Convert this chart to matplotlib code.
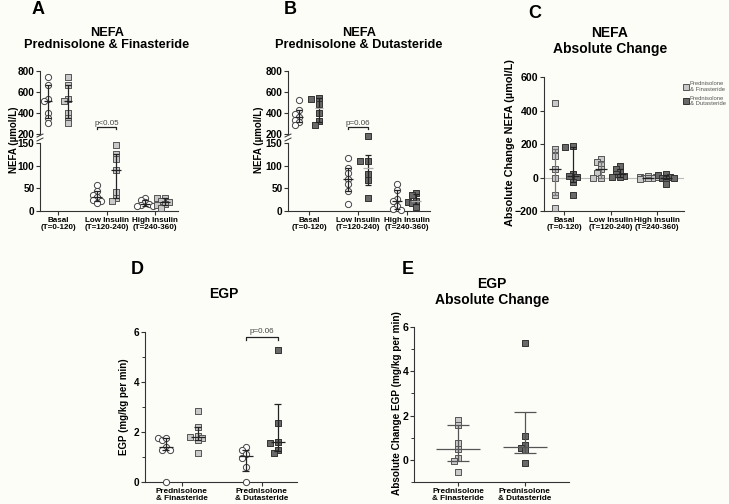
import numpy as np
import matplotlib.pyplot as plt
from matplotlib.lines import Line2D

plt.rcParams['font.family'] = ['Liberation Sans', 'DejaVu Sans']

W, H = 729, 504
BG = '#fdfdf8'

# ---- data ----
nefa_cats = ["Basal\n(T=0-120)", "Low Insulin\n(T=120-240)", "High Insulin\n(T=240-360)"]
egp_cats = ["Prednisolone\n& Finasteride", "Prednisolone\n& Dutasteride"]
legend_labels = ["Prednisolone\n& Finasteride", "Prednisolone\n& Dutasteride"]

# panel A: prednisolone alone (circles) vs prednisolone + finasteride (squares)
fin_pred = [[740, 670, 530, 510, 400, 350, 305], [58, 44, 35, 30, 25, 22, 18], [29, 24, 19, 16, 13, 12, 10]]
fin_combo = [[740, 670, 530, 510, 400, 350, 305], [145, 125, 115, 90, 42, 28, 23], [29, 28, 22, 20, 16, 13, 7]]
# panel B: prednisolone alone vs prednisolone + dutasteride
dut_pred = [[525, 425, 395, 365, 335, 310, 290], [117, 95, 84, 71, 60, 45, 16], [60, 46, 27, 22, 10, 5, 2]]
dut_combo = [[540, 538, 490, 400, 320, 285], [165, 111, 110, 81, 68, 28], [40, 36, 22, 20, 17, 8]]
# panel C: absolute change in NEFA
chg_fin = [[445, 170, 130, 50, 0, -105, -180], [110, 90, 80, 50, 25, 0, -2], [8, 5, 3, 0, -2, -4, -7]]
chg_dut = [[186, 182, 18, 10, 2, -25, -104], [66, 50, 30, 20, 10, 5, 2], [18, 12, 5, 0, -3, -8, -40]]
# panel D: EGP
egp_pred = [[1.76, 1.70, 1.78, 1.40, 1.30, 1.28, 0.0], [1.39, 1.27, 1.11, 0.95, 0.59, 0.0]]
egp_combo = [[2.85, 2.20, 1.85, 1.82, 1.78, 1.68, 1.15], [5.27, 2.38, 1.60, 1.58, 1.28, 1.15]]
# panel E: absolute change in EGP
egp_chg = [[1.81, 1.58, 0.78, 0.48, 0.08, -0.03, -0.54], [5.27, 1.10, 0.65, 0.54, 0.45, -0.12]]

CIRC = dict(marker='o', facecolor='white', edgecolor='#444444')
LIGHT = dict(marker='s', facecolor='#c9c9c9', edgecolor='#555555')
DARK = dict(marker='s', facecolor='#6a6a6a', edgecolor='#333333')


def box(x0, y0, x1, y1):
    return [x0 / W, 1 - y1 / H, (x1 - x0) / W, (y1 - y0) / H]


def swarm(vals, ypx, xpx, d=4.2, step=4.0):
    # spread overlapping points sideways, like a column scatter
    vals = np.asarray(vals, float)
    placed = []
    offs = np.zeros(len(vals))
    cands = [0.0, -step, step, -2 * step, 2 * step]
    for i in np.argsort(vals)[::-1]:
        y = vals[i] * ypx
        best, best_d = 0.0, -1
        for c in cands:
            md = min([np.hypot(c - px, y - py) for px, py in placed] or [99])
            if md >= d:
                best = c
                break
            if md > best_d:
                best, best_d = c, md
        placed.append((best, y))
        offs[i] = best / xpx
    return offs


def group(ax, x0, vals, style, ypx, xpx, medw, capw, lc='#222222', medc=None):
    offs = swarm(vals, ypx, xpx)
    ax.scatter(x0 + offs, vals, s=20, linewidths=0.7, zorder=3, clip_on=False, **style)
    q1, med, q3 = np.percentile(vals, [25, 50, 75], method='weibull')
    kw = dict(color=lc, lw=0.9, zorder=4, clip_on=False, solid_capstyle='butt')
    ax.plot([x0, x0], [q1, q3], **kw)
    for q in (q1, q3):
        ax.plot([x0 - capw / xpx, x0 + capw / xpx], [q, q], **kw)
    kw['color'] = medc or lc
    ax.plot([x0 - medw / xpx, x0 + medw / xpx], [med, med], **kw)


def style_ax(ax, bottom=True, size=7.2):
    ax.set_facecolor('none')
    for s in ('top', 'right'):
        ax.spines[s].set_visible(False)
    for s in ('left', 'bottom'):
        ax.spines[s].set_linewidth(0.8)
        ax.spines[s].set_color('#333333')
    ax.tick_params(length=3, width=0.8, color='#333333', labelsize=size, pad=1)
    for t in ax.get_yticklabels():
        t.set_fontweight('bold')
    if not bottom:
        ax.spines['bottom'].set_visible(False)
        ax.set_xticks([])


def cat_labels(ax, cats, size=5.8):
    ax.set_xticks(range(len(cats)))
    ax.set_xticklabels(cats, fontsize=size, fontweight='bold', linespacing=1.05)
    ax.tick_params(axis='x', pad=1)


def bracket(ax, x0, x1, y, h, text):
    ax.plot([x0, x0, x1, x1], [y - h, y, y, y - h], color='#222222', lw=0.9, clip_on=False)
    ax.text((x0 + x1) / 2, y + h * 0.6, text, ha='center', va='bottom', fontsize=5.8, color='#444444')


fig = plt.figure(figsize=(W / 100, H / 100), dpi=100, facecolor=BG)


def nefa_panel(xl, xr, xlim, xpx, pred, combo, combo_style, med_combo, ptext, lab_x):
    top = fig.add_axes(box(xl, 71, xr, 134))
    bot = fig.add_axes(box(xl, 143, xr, 211))
    top.set_ylim(200, 800)
    bot.set_ylim(0, 150)
    top.set_yticks([200, 400, 600, 800])
    bot.set_yticks([0, 50, 100, 150])
    for a in (top, bot):
        a.set_xlim(*xlim)
    for i in range(3):
        for vals, sty, dx, mc in ((pred[i], CIRC, -0.2, None), (combo[i], combo_style, 0.2, med_combo)):
            if np.median(vals) >= 200:
                group(top, i + dx, vals, sty, 63 / 600, xpx, 4, 3, medc=mc)
            else:
                group(bot, i + dx, vals, sty, 68 / 150, xpx, 5, 3, medc=mc)
    style_ax(top, bottom=False)
    style_ax(bot)
    cat_labels(bot, nefa_cats)
    bracket(top, 0.8, 1.2, 262, 14, ptext)
    # axis break marks
    for yy in (135.5, 139.5):
        fig.add_artist(Line2D([(xl - 3) / W, (xl + 3) / W], [1 - (yy + 1.5) / H, 1 - (yy - 1.5) / H],
                              color='#333333', lw=0.7))
    fig.text(lab_x / W, 1 - 140 / H, "NEFA (µmol/L)", rotation=90, ha='center', va='center',
             fontsize=7, fontweight='bold')


nefa_panel(40, 178, (-0.37, 2.47), 48.5, fin_pred, fin_combo, LIGHT, None, "p<0.05", 14)
nefa_panel(288, 430, (-0.43, 2.48), 48.8, dut_pred, dut_combo, DARK, '#aaaaaa', "p=0.06", 259)

# panel C
axc = fig.add_axes(box(544, 77, 684, 211))
axc.set_xlim(-0.43, 2.58)
axc.set_ylim(-200, 600)
axc.set_yticks([-200, 0, 200, 400, 600])
axc.axhline(0, color='#bbbbbb', lw=0.8, zorder=1)
for i in range(3):
    group(axc, i - 0.2, chg_fin[i], LIGHT, 134 / 800, 46.5, 6, 3, lc='#777777', medc='#222222')
    group(axc, i + 0.2, chg_dut[i], DARK, 134 / 800, 46.5, 6, 3)
style_ax(axc, size=7.6)
cat_labels(axc, nefa_cats)
handles = [Line2D([], [], ls='none', marker='s', markersize=5, markerfacecolor=s['facecolor'],
                  markeredgecolor=s['edgecolor'], markeredgewidth=0.7) for s in (LIGHT, DARK)]
leg = axc.legend(handles, legend_labels, loc='upper left', bbox_to_anchor=(0.98, 0.99), frameon=False,
                 fontsize=4.2, handlelength=0.7, handletextpad=0.3, labelspacing=0.6, borderpad=0)
for t in leg.get_texts():
    t.set_color('#555555')
fig.text(510 / W, 1 - 143 / H, "Absolute Change NEFA (µmol/L)", rotation=90, ha='center', va='center',
         fontsize=7.8, fontweight='bold')

# panel D
axd = fig.add_axes(box(145, 332, 297, 482))
axd.set_xlim(-0.46, 1.44)
axd.set_ylim(0, 6)
axd.set_yticks([0, 2, 4, 6])
axd.set_yticks([1, 3, 5], minor=True)
for i in range(2):
    group(axd, i - 0.2, egp_pred[i], CIRC, 150 / 6, 80, 7, 3.5)
    group(axd, i + 0.2, egp_combo[i], LIGHT if i == 0 else DARK, 150 / 6, 80, 7, 3.5)
style_ax(axd)
axd.tick_params(which='minor', length=2, width=0.7, color='#333333')
cat_labels(axd, egp_cats, size=5.9)
bracket(axd, 0.8, 1.2, 5.8, 0.12, "p=0.06")
fig.text(124 / W, 1 - 407 / H, "EGP (mg/kg per min)", rotation=90, ha='center', va='center',
         fontsize=7, fontweight='bold')

# panel E
axe = fig.add_axes(box(414, 327, 569, 482))
axe.set_xlim(-0.66, 1.66)
axe.set_ylim(-1, 6)
axe.set_yticks([0, 2, 4, 6])
axe.set_yticks([-1, 1, 3, 5], minor=True)
for i in range(2):
    group(axe, i, egp_chg[i], LIGHT if i == 0 else DARK, 155 / 7, 67, 22, 11, lc='#555555')
style_ax(axe, size=7.6)
axe.tick_params(which='minor', length=2, width=0.7, color='#333333')
cat_labels(axe, egp_cats, size=5.9)
fig.text(397 / W, 1 - 403 / H, "Absolute Change EGP (mg/kg per min)", rotation=90, ha='center',
         va='center', fontsize=7.2, fontweight='bold')

# titles and panel letters
titles = [(107, 39, "NEFA\nPrednisolone & Finasteride", 9.2), (359, 39, "NEFA\nPrednisolone & Dutasteride", 9.2),
          (610, 41, "NEFA\nAbsolute Change", 10), (224, 294, "EGP", 10), (492, 292, "EGP\nAbsolute Change", 10)]
for x, y, t, fs in titles:
    fig.text(x / W, 1 - y / H, t, ha='center', va='center', fontsize=fs, fontweight='bold',
             linespacing=1.1)
letters = [(38, 9, "A"), (290, 9, "B"), (535, 14, "C"), (137, 270, "D"), (408, 270, "E")]
for x, y, t in letters:
    fig.text(x / W, 1 - y / H, t, ha='center', va='center', fontsize=13, fontweight='bold')

fig.savefig('out.png', dpi=100, facecolor=BG)
